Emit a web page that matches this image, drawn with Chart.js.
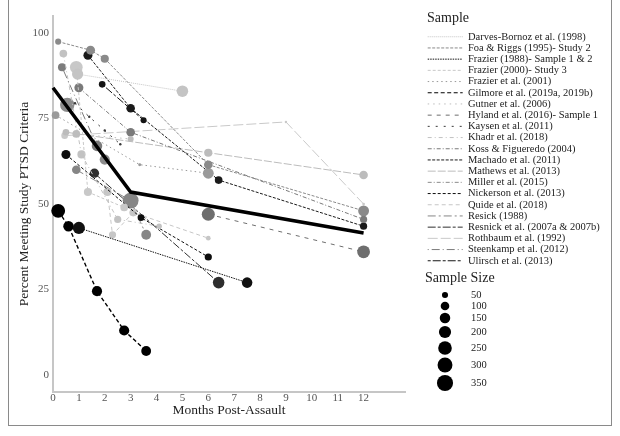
<!DOCTYPE html>
<html>
<head>
<meta charset="utf-8">
<script src="https://cdn.jsdelivr.net/npm/chart.js@4/dist/chart.umd.min.js"></script>
<style>
  html, body { margin: 0; padding: 0; background: #fff; }
  #wrap { position: relative; width: 620px; height: 436px; }
  #frame { position: absolute; left: 8px; top: -2px; width: 604px; height: 428px; border: 1px solid #8a8a8a; box-sizing: border-box; }
  canvas { position: absolute; left: 0; top: 0; }
</style>
</head>
<body>
<div id="wrap"><div id="frame"></div><canvas id="chart" width="620" height="436"></canvas></div>
<script>
const studies = [
  "Darves-Bornoz et al. (1998)",
  "Foa & Riggs (1995)- Study 2",
  "Frazier (1988)- Sample 1 & 2",
  "Frazier (2000)- Study 3",
  "Frazier et al. (2001)",
  "Gilmore et al. (2019a, 2019b)",
  "Gutner et al. (2006)",
  "Hyland et al. (2016)- Sample 1",
  "Kaysen et al. (2011)",
  "Khadr et al. (2018)",
  "Koss & Figueredo (2004)",
  "Machado et al. (2011)",
  "Mathews et al. (2013)",
  "Miller et al. (2015)",
  "Nickerson et al. (2013)",
  "Quide et al. (2018)",
  "Resick (1988)",
  "Resnick et al. (2007a & 2007b)",
  "Rothbaum et al. (1992)",
  "Steenkamp et al. (2012)",
  "Ulirsch et al. (2013)"
];

// months post-assault, one list per study
const months = [
  [0.95, 5],
  [0.2, 1.45, 2, 6, 12],
  [1, 7.5],
  [0.9, 1.35, 2.75],
  [0.1, 3.35, 6],
  [0.2, 0.6, 1.7, 2.75, 3.6],
  [0.9, 3],
  [6, 12],
  [0.85, 1.4, 2, 2.6],
  [0.4, 1.1, 2.5, 4.1],
  [1, 3, 12],
  [1.35, 3, 6.4, 12],
  [0.5, 6, 12],
  [0.55, 2],
  [0.5, 3.4, 6],
  [2.1, 2.3, 3.1, 6],
  [0.9, 3, 3.6],
  [1.6, 6.4],
  [0.45, 9, 12],
  [0.35, 1.7],
  [1.9, 3.5]
];

// percent meeting PTSD criteria
const pct = [
  [88, 83],
  [97.5, 95, 92.5, 61.5, 48],
  [43, 27],
  [90, 53.5, 49],
  [76, 61.5, 59],
  [48, 43.5, 24.5, 13, 7],
  [70.5, 69],
  [47, 36],
  [79.5, 75.5, 71.5, 67.5],
  [94, 64.5, 45.5, 43.5],
  [84, 71, 45.5],
  [93.5, 78, 57, 43.5],
  [71, 65, 58.5],
  [79, 63],
  [64.5, 46, 34.5],
  [53.5, 41, 47.5, 40],
  [60, 51, 41],
  [59, 27],
  [70, 74, 50],
  [90, 67],
  [85, 74.5]
];

// sample sizes
const sampleN = [
  [170, 180],
  [50, 110, 90, 100, 160],
  [200, 150],
  [220, 90, 80],
  [80, 12, 160],
  [260, 150, 140, 140, 130],
  [80, 50],
  [230, 220],
  [8, 8, 8, 8],
  [80, 90, 70, 40],
  [110, 100, 70],
  [110, 100, 80, 70],
  [60, 90, 100],
  [280, 140],
  [110, 60, 70],
  [90, 70, 80, 30],
  [100, 340, 130],
  [120, 180],
  [60, 8, 10],
  [90, 150],
  [60, 50]
];

const trendMonths = [0, 3, 12];
const trendPct = [84, 53.5, 41.5];

const xTicks = [0, 1, 2, 3, 4, 5, 6, 7, 8, 9, 10, 11, 12];
const yTicks = [0, 25, 50, 75, 100];
const sizeLegend = [50, 100, 150, 200, 250, 300, 350];

// styles
const grays = ['#c4c4c4', '#8a8a8a', '#111111', '#c8c8c8', '#9a9a9a', '#000000', '#bdbdbd',
  '#6e6e6e', '#3a3a3a', '#c2c2c2', '#7a7a7a', '#1a1a1a', '#bcbcbc', '#8c8c8c', '#0d0d0d',
  '#c6c6c6', '#868686', '#2e2e2e', '#c9c9c9', '#7c7c7c', '#141414'];
const dashes = [[1, 1], [3, 1.5], [1.5, 1], [3, 2], [1.5, 3], [4, 2.5], [1.5, 4], [4, 5], [2, 6],
  [4, 3, 1, 3], [4, 2, 1, 2], [3, 1.5], [8, 2], [4, 2, 1, 2], [3, 2], [4, 3], [8, 3, 2, 3],
  [8, 2, 3, 2], [10, 3], [1, 3, 8, 3], [3, 2, 8, 2]];

const SERIF = '"Liberation Serif", "DejaVu Serif", serif';
const rad = n => 0.43 * Math.sqrt(n);

const datasets = [{
  label: '',
  data: trendMonths.map((m, j) => ({x: m, y: trendPct[j]})),
  borderColor: '#000',
  borderWidth: 3.5,
  pointRadius: 0,
  clip: false
}];
studies.forEach((name, i) => {
  datasets.push({
    label: name,
    data: months[i].map((m, j) => ({x: m, y: pct[i][j]})),
    borderColor: grays[i],
    backgroundColor: grays[i],
    borderWidth: i === 5 ? 1.4 : 1,
    borderDash: dashes[i],
    pointRadius: sampleN[i].map(rad),
    pointHoverRadius: sampleN[i].map(rad),
    pointBorderWidth: 0,
    clip: false
  });
});

const legendShift = {
  id: 'legendShift',
  afterInit(chart) {
    const lg = chart.legend;
    const fit = lg.fit.bind(lg);
    lg.fit = function () { fit(); this.width = 215; };
  },
  afterLayout(chart) {
    const lg = chart.legend;
    lg.left += 22; lg.right += 22;
    lg.top -= 16; lg.bottom -= 16;
  }
};

const sizeKey = {
  id: 'sizeKey',
  afterDraw(chart) {
    const ctx = chart.ctx;
    ctx.save();
    ctx.fillStyle = '#222';
    ctx.font = '14px ' + SERIF;
    ctx.textBaseline = 'middle';
    ctx.fillText('Sample Size', 425, 278);
    const ys = [295, 306, 318, 332, 348, 365, 383];
    sizeLegend.forEach((n, k) => {
      ctx.fillStyle = '#000';
      ctx.beginPath();
      ctx.arc(445, ys[k], rad(n), 0, Math.PI * 2);
      ctx.fill();
      ctx.fillStyle = '#222';
      ctx.font = '10.5px ' + SERIF;
      ctx.fillText(String(n), 471, ys[k]);
    });
    ctx.restore();
  }
};

new Chart(document.getElementById('chart'), {
  type: 'line',
  data: {datasets},
  options: {
    responsive: false,
    animation: false,
    devicePixelRatio: 1,
    layout: {padding: {top: 16, left: 0, right: 0, bottom: 0}},
    elements: {line: {tension: 0}},
    plugins: {
      tooltip: {enabled: false},
      legend: {
        position: 'right',
        align: 'start',
        title: {display: true, text: 'Sample', color: '#222', font: {family: SERIF, size: 14}, padding: {top: 11, bottom: 3}, position: 'start'},
        labels: {
          usePointStyle: true,
          pointStyle: 'line',
          pointStyleWidth: 35,
          padding: 0.7,
          color: '#222',
          font: {family: SERIF, size: 10.5},
          generateLabels: chart => chart.data.datasets.map((ds, i) => ({
            text: ds.label,
            strokeStyle: ds.borderColor,
            fillStyle: ds.borderColor,
            lineWidth: 1,
            lineDash: ds.borderDash,
            pointStyle: 'line',
            hidden: false,
            fontColor: '#222',
            datasetIndex: i
          })).filter(it => it.text)
        }
      }
    },
    scales: {
      x: {
        type: 'linear',
        min: 0,
        max: 13.6,
        grid: {display: false, drawTicks: false},
        border: {display: true, color: '#c6c6c6', width: 2},
        afterBuildTicks: s => { s.ticks = xTicks.map(v => ({value: v})); },
        afterFit: s => { s.height = 44; },
        ticks: {color: '#555', font: {family: SERIF, size: 11}, padding: 0, autoSkip: false, maxRotation: 0},
        title: {display: true, text: 'Months Post-Assault', color: '#222', font: {family: SERIF, size: 13.5}, padding: {top: 0, bottom: 17}}
      },
      y: {
        min: -5,
        max: 105,
        grid: {display: false, drawTicks: false},
        border: {display: true, color: '#c6c6c6', width: 2},
        afterBuildTicks: s => { s.ticks = yTicks.map(v => ({value: v})); },
        afterFit: s => { s.width = 53; },
        ticks: {color: '#555', font: {family: SERIF, size: 11}, padding: 4},
        title: {display: true, text: 'Percent Meeting Study PTSD Criteria', color: '#222', font: {family: SERIF, size: 13.5}, padding: {top: 16, bottom: 0}}
      }
    }
  },
  plugins: [legendShift, sizeKey]
});
</script>
</body>
</html>
